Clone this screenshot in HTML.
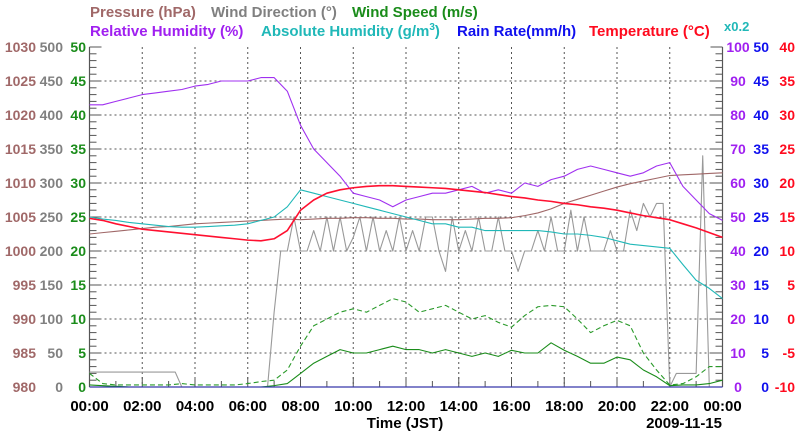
<!DOCTYPE html>
<html><head><meta charset="utf-8"><style>
html,body{margin:0;padding:0;background:#fff;}
svg{display:block;font-family:"Liberation Sans",Arial,sans-serif;font-weight:bold;}
</style></head><body>
<svg id="chart" width="800" height="434" viewBox="0 0 800 434" xmlns="http://www.w3.org/2000/svg">
<g id="legend" font-size="15">
<text x="90" y="17" fill="#a06868">Pressure (hPa)</text>
<text x="211" y="17" fill="#808080">Wind Direction (°)</text>
<text x="352" y="17" fill="#1a8c1a">Wind Speed (m/s)</text>
<text x="90" y="36" fill="#a020f0">Relative Humidity (%)</text>
<text x="261" y="36" fill="#20b8b8">Absolute Humidity (g/m<tspan font-size="10" dy="-6">3</tspan><tspan dy="6">)</tspan></text>
<text x="457" y="36" fill="#1010ee">Rain Rate(mm/h)</text>
<text x="589" y="36" fill="#ff0a1e">Temperature (°C)</text>
<text x="724" y="31" fill="#20b8b8" font-size="13">x0.2</text>
</g>
<g id="grid"></g>
<g id="axes"></g>
<g id="series"></g>
<g id="labels" font-size="14"></g>
<text x="405" y="428" text-anchor="middle" font-size="15" fill="#000">Time (JST)</text>
<text x="722" y="428" text-anchor="end" font-size="15" fill="#000">2009-11-15</text>
</svg>
<script>
// half-hour samples 00:00..24:00
const relHumidity=[83,83,84,85,86,86.5,87,87.5,88.5,89,90,90,90,91,91,87,77,70,66,62,57,56,55,53,55,56,57,57,58,59,57,58,57,60,59,61,62,64,65,64,63,62,63,65,66,59,55,51,49];
const absHumidity=[25,24.7,24.5,24.2,24,23.8,23.6,23.5,23.5,23.6,23.7,23.8,24,24.5,25,26.5,29,28.5,28,27.5,27,26.5,26,25.5,25,24.5,24,24,23.5,23.5,23,23,23,23,23,22.8,22.5,22.5,22.3,22,21.5,21,20.8,20.6,20.4,18,15.7,14.5,13];
const temperature=[14.8,14.5,14,13.6,13.2,13,12.8,12.6,12.4,12.2,12,11.8,11.6,11.5,11.8,13,16,17.5,18.5,19,19.3,19.5,19.6,19.6,19.5,19.4,19.3,19.2,19,18.8,18.6,18.3,18,17.8,17.5,17.3,17,16.8,16.5,16.3,16,15.6,15.2,14.9,14.6,14,13.4,12.7,12];
const pressure=[1002.5,1002.7,1002.9,1003.1,1003.3,1003.5,1003.6,1003.8,1004,1004.1,1004.2,1004.3,1004.4,1004.5,1004.6,1004.7,1004.6,1004.7,1004.8,1004.8,1004.9,1004.9,1004.8,1004.8,1004.7,1004.7,1004.6,1004.6,1004.6,1004.7,1004.8,1004.8,1004.9,1005.2,1005.6,1006.2,1007,1007.6,1008.2,1008.8,1009.4,1009.9,1010.3,1010.7,1011.1,1011.2,1011.3,1011.4,1011.5];
const windSpeed=[0.3,0.2,0.1,0,0,0,0,0,0,0,0,0,0,0,0.2,0.5,2,3.5,4.5,5.5,5,5,5.5,6,5.5,5.5,5,5.5,5,4.5,5,4.5,5.4,5,5,6.5,5.4,4.5,3.5,3.5,4.4,4,2.5,1.5,0.2,0.3,0.3,0.5,1];
const windGust=[2,0.5,0.3,0.3,0.3,0.3,0.3,0.5,0.3,0.3,0.3,0.3,0.5,0.8,1,2.5,6,9,10,11,11.5,11,12,13,12.5,11,11.5,12,11,10,10.5,9.5,8.8,10.5,11.8,12,11.8,10,8,9,9.8,9,5,2.5,0.3,0.5,1.5,3,3];
const rainRate=[0,0,0,0,0,0,0,0,0,0,0,0,0,0,0,0,0,0,0,0,0,0,0,0,0,0,0,0,0,0,0,0,0,0,0,0,0,0,0,0,0,0,0,0,0,0,0,0,0];
// quarter-hour samples
const windDir=[22,22,22,22,22,22,22,22,22,22,22,22,22,22,0,0,0,0,0,0,0,0,0,0,0,0,0,0,110,200,
200,250,200,200,230,200,250,200,250,200,220,250,200,250,200,230,
200,250,200,230,200,250,250,200,170,250,200,230,200,250,200,200,
250,200,200,170,200,200,230,200,250,200,200,260,200,250,200,200,
200,230,200,200,260,230,270,250,270,270,
0,20,20,20,20,340,0,0,0];
const xTickLabels=["00:00","02:00","04:00","06:00","08:00","10:00","12:00","14:00","16:00","18:00","20:00","22:00","00:00"];
const pressureTicks=[980,985,990,995,1000,1005,1010,1015,1020,1025,1030];
const dirTicks=[0,50,100,150,200,250,300,350,400,450,500];
const speedTicks=[0,5,10,15,20,25,30,35,40,45,50];
const rhTicks=[0,10,20,30,40,50,60,70,80,90,100];
const rainTicks=[0,5,10,15,20,25,30,35,40,45,50];
const tempTicks=[-10,-5,0,5,10,15,20,25,30,35,40];

const NS="http://www.w3.org/2000/svg";
const L=89.5,R=722.5,B=387,T=47;
const X=h=>L+h*(R-L)/24;
const Y=v=>B-v*(B-T)/50;
function mk(tag,attrs,parent){const e=document.createElementNS(NS,tag);for(const k in attrs)e.setAttribute(k,attrs[k]);parent.appendChild(e);return e;}
const grid=document.getElementById('grid'),axes=document.getElementById('axes'),ser=document.getElementById('series'),lab=document.getElementById('labels');
for(let i=1;i<12;i++){const l=mk('line',{x1:X(i*2),x2:X(i*2),y1:T,y2:B,stroke:'#555','stroke-dasharray':'2,3','stroke-width':1},grid);

}
for(let i=1;i<10;i++){const l=mk('line',{x1:L,x2:R,y1:Y(i*5),y2:Y(i*5),stroke:'#555','stroke-dasharray':'2,3','stroke-width':1},grid);

}
[[L,T,L,B],[R,T,R,B],[L,B,R,B]].forEach(a=>{const l=mk('line',{x1:a[0],y1:a[1],x2:a[2],y2:a[3],stroke:'#555','stroke-width':1.2},axes);

});
for(let v=0;v<=50;v++){const len=v%5===0?12:7;
const a=mk('line',{x1:L,x2:L+len,y1:Y(v),y2:Y(v),stroke:'#555'},axes);


const b=mk('line',{x1:R-len,x2:R,y1:Y(v),y2:Y(v),stroke:'#555'},axes);

}
for(let h=0;h<=24;h++){const len=h%2===0?10:6;
const a=mk('line',{x1:X(h),x2:X(h),y1:B,y2:B-len,stroke:'#555'},axes);

}
function poly(vals,step,map,color,name,extra){const pts=vals.map((v,i)=>X(i*step).toFixed(2)+','+Y(map(v)).toFixed(2)).join(' ');
const p=mk('polyline',Object.assign({points:pts,fill:'none',stroke:color,'stroke-width':1.1,'stroke-linejoin':'round'},extra||{}),ser);

}
poly(windDir,0.25,v=>v/10,'#999','wind-direction-line');
poly(pressure,0.5,v=>v-980,'#a06868','pressure-line');
poly(absHumidity,0.5,v=>v,'#20b8b8','absolute-humidity-line');
poly(windGust,0.5,v=>v,'#2a9a2a','wind-gust-line',{'stroke-dasharray':'5,3'});
poly(windSpeed,0.5,v=>v,'#1a8c1a','wind-speed-line');
poly(relHumidity,0.5,v=>v/2,'#a030f0','relative-humidity-line');
poly(temperature,0.5,v=>v+10,'#ff1030','temperature-line',{'stroke-width':1.6});
poly(rainRate,0.5,v=>v,'#3030c0','rain-rate-line');
function col(arr,x,anchor,color,name){arr.forEach((t,i)=>{const e=mk('text',{x:x,y:Y(i*5)+5,'text-anchor':anchor,fill:color},lab);e.textContent=t;

});}
col(pressureTicks,36,'end','#a06868','pressure-tick-label');
col(dirTicks,63,'end','#808080','wind-direction-tick-label');
col(speedTicks,86,'end','#1a8c1a','wind-speed-tick-label');
col(rhTicks,738,'middle','#a020f0','rh-tick-label');
col(rainTicks,769,'end','#1010ee','rain-tick-label');
col(tempTicks,795,'end','#ff0a1e','temperature-tick-label');
xTickLabels.forEach((t,i)=>{const e=mk('text',{x:X(i*2),y:411,'text-anchor':'middle',fill:'#000','font-size':15},lab);e.textContent=t;

});
</script>
</body></html>
